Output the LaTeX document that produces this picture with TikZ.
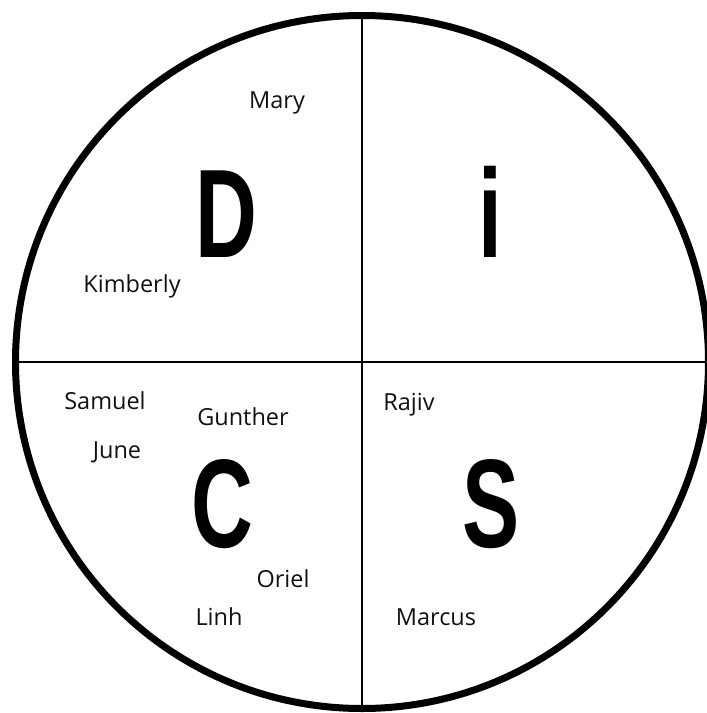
\documentclass[tikz,border=0pt]{standalone}
\usepackage{fontspec}
\setmainfont{Open Sans}
\newfontfamily\discfont{Liberation Sans}
\usetikzlibrary{positioning}
\definecolor{discInk}{HTML}{000000}
\definecolor{discName}{HTML}{111111}
\tikzset{
  wheel/.style={circle,draw=discInk,line width=7pt,minimum size=693pt,inner sep=0pt},
  divider/.style={draw=discInk,line width=2pt},
  discletter/.style={font=\discfont\fontsize{126}{126}\bfseries,text=discInk,
    xscale=0.68,transform shape,anchor=base,inner sep=0pt},
  person/.style={font=\fontsize{23.5}{27}\selectfont,text=discName,anchor=base,inner sep=0pt}
}
\begin{document}
\begin{tikzpicture}[x=1pt,y=-1pt]
  \useasboundingbox (0,0) rectangle (707,713);
  \node[wheel] (wheel) at (362,362) {};
  \draw[divider] (wheel.north) -- (wheel.south);
  \draw[divider] (wheel.west) -- (wheel.east);
  \node[discletter] (dom) at (226,257) {D};
  \node[discletter] (inf) at (490,257) {i};
  \node[discletter] (con) at (222,547) {C};
  \node[discletter] (ste) at (491,547) {S};
  \node[person] (mary) at (277,108) {Mary};
  \node[person] (kimberly) at (132,292) {Kimberly};
  \node[person] (samuel) at (105,409) {Samuel};
  \node[person] (gunther) at (243,425) {Gunther};
  \node[person] (june) at (117,458) {June};
  \node[person] (oriel) at (283,587) {Oriel};
  \node[person] (linh) at (219,625) {Linh};
  \node[person] (rajiv) at (409,410) {Rajiv};
  \node[person] (marcus) at (436,625) {Marcus};
\end{tikzpicture}
\end{document}
